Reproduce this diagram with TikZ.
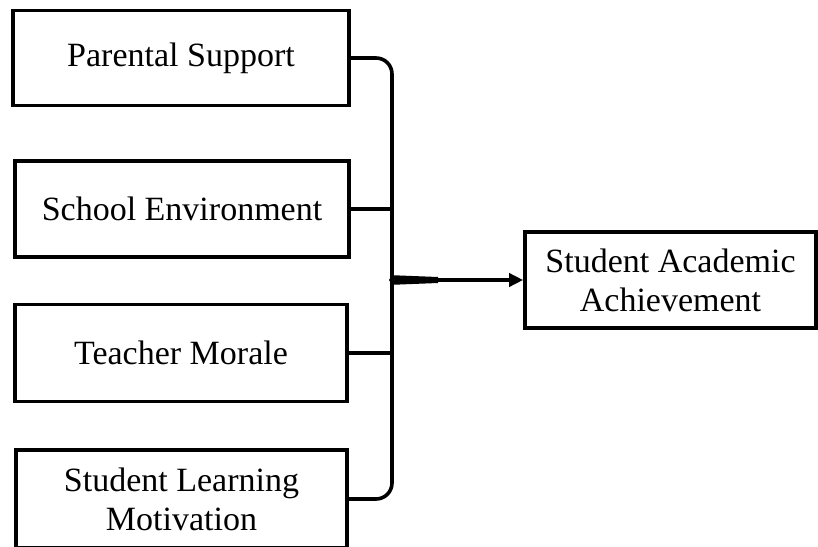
\documentclass[tikz,border=0pt]{standalone}
\usepackage{fontspec}
\setmainfont{Liberation Serif}
\usetikzlibrary{arrows.meta}

\begin{document}
\begin{tikzpicture}[x=0.5pt, y=-0.5pt,
  box/.style={draw, line width=1.8pt, align=center, inner sep=0pt,
    font=\fontsize{17}{19.5}\selectfont},
  link/.style={line width=1.8pt}]
  \useasboundingbox (0,0) rectangle (818,546);
  \node[box, minimum width=168pt, minimum height=47.5pt] (ps) at (181,58) {Parental Support};
  \node[box, minimum width=167pt, minimum height=48pt] (se) at (182,209) {School Environment};
  \node[box, minimum width=166pt, minimum height=48.5pt] (tm) at (181,353) {Teacher Morale};
  \node[box, minimum width=165.5pt, minimum height=49pt] (slm) at (181.5,499) {Student Learning\\Motivation};
  \node[box, minimum width=145.5pt, minimum height=48pt] (saa) at (670.5,280) {Student Academic\\Achievement};
  \coordinate (tip) at (392,280);
  \draw[link, rounded corners=8pt] (ps.east) -| ([yshift=7pt]tip) .. controls ([yshift=1pt]tip) .. ([xshift=5pt]tip);
  \draw[link, rounded corners=8pt] (slm.east) -| ([yshift=-7pt]tip) .. controls ([yshift=-1pt]tip) .. ([xshift=5pt]tip);
  \draw[link] (se.east) -- (se.east -| tip);
  \draw[link] (tm.east) -- (tm.east -| tip);
  \fill ([xshift=-1.5pt]tip) -- ([yshift=2.4pt]tip) -- ([xshift=23pt,yshift=1.5pt]tip)
    -- ([xshift=23pt,yshift=-1.5pt]tip) -- ([yshift=-2.4pt]tip) -- cycle;
  \draw[link, -{Triangle[length=7pt,width=6.5pt]}] (tip) -- (saa.west);
\end{tikzpicture}
\end{document}
